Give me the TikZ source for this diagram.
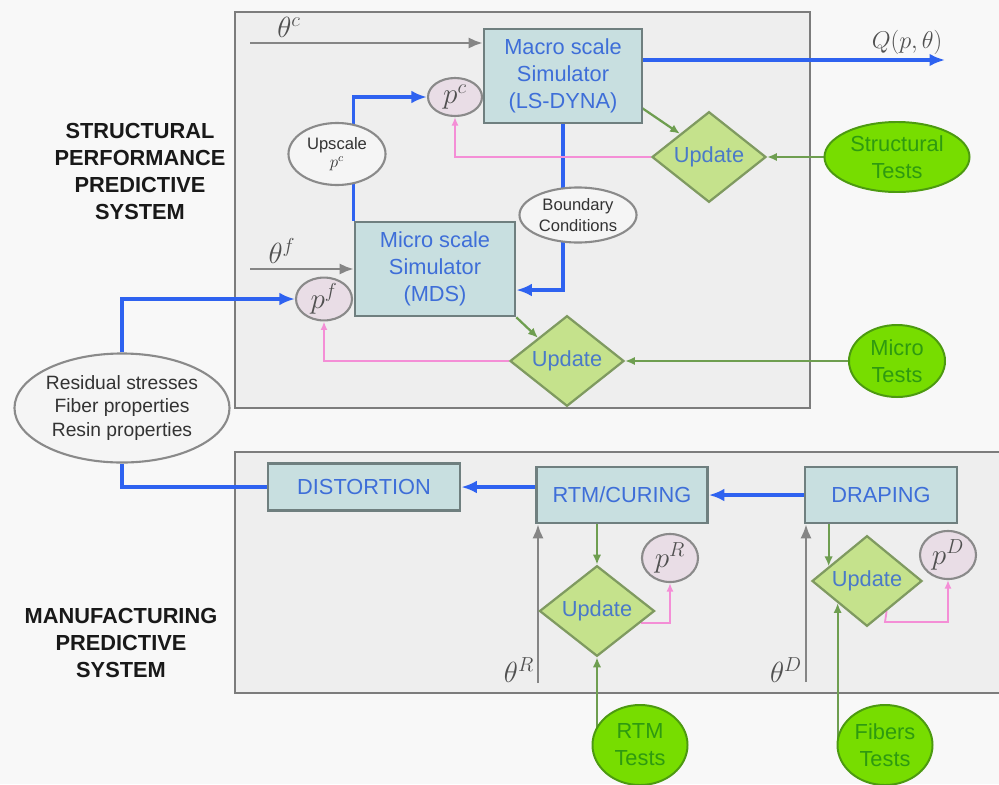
\documentclass[tikz,border=0pt]{standalone}
\usepackage{fontspec}
\setmainfont{Liberation Sans}
\usetikzlibrary{shapes.geometric,arrows.meta}
\definecolor{bgc}{HTML}{F8F8F8}
\definecolor{panel}{HTML}{EEEEEE}
\definecolor{panelline}{HTML}{7C7C7C}
\definecolor{simfill}{HTML}{C8DFE0}
\definecolor{simline}{HTML}{6F7F7F}
\definecolor{simtext}{HTML}{3E6ED8}
\definecolor{updfill}{HTML}{C5E28C}
\definecolor{updline}{HTML}{7F9A60}
\definecolor{updtext}{HTML}{4A7AC8}
\definecolor{testfill}{HTML}{77DD00}
\definecolor{testline}{HTML}{4C9A10}
\definecolor{testtext}{HTML}{2E9A10}
\definecolor{bluec}{HTML}{2E62F0}
\definecolor{greenc}{HTML}{6E9E50}
\definecolor{pinkc}{HTML}{F48ED6}
\definecolor{grayc}{HTML}{858585}
\definecolor{pfill}{HTML}{E9DDE6}
\definecolor{pline}{HTML}{8A8A8A}
\definecolor{ellline}{HTML}{8A8A8A}
\definecolor{ellfill}{HTML}{F5F5F5}
\definecolor{mathc}{HTML}{505050}
\pgfdeclarelayer{panels}
\pgfdeclarelayer{edges}
\pgfsetlayers{panels,edges,main}
\tikzset{
  simbox/.style={draw=simline, line width=1.8pt, fill=simfill, text=simtext,
    font=\fontsize{15.5}{19.2}\selectfont, align=center, inner sep=0pt},
  updbox/.style={diamond, draw=updline, line width=1.6pt, fill=updfill, text=updtext,
    font=\fontsize{15.5}{19.2}\selectfont, inner sep=0pt},
  testbox/.style={ellipse, draw=testline, line width=1.4pt, fill=testfill, text=testtext,
    font=\fontsize{15.5}{19.2}\selectfont, align=center, inner sep=0pt},
  pbox/.style={ellipse, draw=pline, line width=1.5pt, fill=pfill, text=mathc,
    font=\fontsize{20}{22}\selectfont, inner sep=0pt},
  notebox/.style={ellipse, draw=ellline, line width=1.5pt, fill=ellfill, text=black!80,
    align=center, inner sep=0pt},
  thlabel/.style={text=mathc, font=\fontsize{20}{24}\selectfont, inner sep=0pt},
  title/.style={font=\fontsize{15.5}{19.2}\selectfont\bfseries, text=black!90, align=center},
  panelbox/.style={draw=panelline, line width=1.8pt, fill=panel},
  bluearr/.style={draw=bluec, line width=2.5pt, -{Latex[length=11pt,width=9pt]}},
  blueline/.style={draw=bluec, line width=2.5pt},
  greenarr/.style={draw=greenc, line width=1.6pt, -{Latex[length=7pt,width=6pt]}},
  pinkarr/.style={draw=pinkc, line width=1.3pt, -{Latex[length=6pt,width=5pt]}},
  grayarr/.style={draw=grayc, line width=1.8pt, -{Latex[length=10pt,width=8pt]}}
}
\begin{document}
\begin{tikzpicture}[x=0.025cm,y=-0.025cm]
\useasboundingbox (0,0) rectangle (999,784);

% panels
\begin{pgfonlayer}{panels}
\fill[bgc] (0,0) rectangle (999,784);
\draw[panelbox] (235,12) rectangle (810,408);
\fill[panel] (235,452) rectangle (999,693);
\draw[draw=panelline, line width=1.8pt] (999,452) -- (235,452) -- (235,693) -- (999,693);
\end{pgfonlayer}

% titles
\node[title] (t1) at (140,171) {STRUCTURAL\\PERFORMANCE\\PREDICTIVE\\SYSTEM};
\node[title] (t2) at (121,643) {MANUFACTURING\\PREDICTIVE\\SYSTEM};

% structural system nodes
\node[simbox, minimum width=3.95cm, minimum height=2.35cm] (macro) at (563,76) {Macro scale\\Simulator\\(LS-DYNA)};
\node[simbox, minimum width=4.0cm, minimum height=2.35cm] (micro) at (435,269) {Micro scale\\Simulator\\(MDS)};
\node[pbox, minimum width=1.35cm, minimum height=0.95cm] (pc) at (455,97) {$p^c$};
\node[pbox, minimum width=1.4cm, minimum height=1.0cm] (pf) at (324,299) {$p^f$};
\node[notebox, minimum width=2.425cm, minimum height=1.55cm, font=\fontsize{11.8}{14}\selectfont] (ups) at (337,154) {Upscale\\[-1pt]{\large$p^c$}};
\node[notebox, minimum width=2.925cm, minimum height=1.375cm, font=\fontsize{11.8}{14.5}\selectfont] (bc) at (578,215) {Boundary\\Conditions};
\node[updbox, minimum width=2.85cm, minimum height=1.7cm] (u1) at (709,157) {Update};
\node[updbox, minimum width=2.85cm, minimum height=1.8cm] (u2) at (567,361) {Update};
\node[testbox, minimum width=3.625cm, minimum height=1.75cm] (st) at (897,157) {Structural\\Tests};
\node[testbox, minimum width=2.4cm, minimum height=1.8cm] (mt) at (897,361) {Micro\\Tests};
\node[notebox, minimum width=5.375cm, minimum height=2.725cm, font=\fontsize{13.7}{16.8}\selectfont] (res) at (122,408) {Residual stresses\\Fiber properties\\Resin properties};

\node[thlabel] (thcl) at (289,27) {$\theta^c$};
\node[thlabel] (thfl) at (282,251) {$\theta^f$};
\node[text=mathc, font=\fontsize{16}{19}\selectfont, inner sep=0pt] (ql) at (907,42) {$Q(p,\theta)$};
\coordinate (thc) at (250,43);
\coordinate (thf) at (250,269);
\coordinate (qend) at (945,60);
\coordinate (bcturn) at (563,290);
\coordinate (mgs) at (642,108);

% manufacturing nodes
\node[simbox, minimum width=4.8cm, minimum height=1.175cm] (dist) at (364,487) {DISTORTION};
\node[simbox, minimum width=4.275cm, minimum height=1.4cm] (rtm) at (622,495) {RTM/CURING};
\node[simbox, minimum width=3.8cm, minimum height=1.4cm] (drap) at (881,495) {DRAPING};
\node[updbox, minimum width=2.875cm, minimum height=2.05cm] (ur) at (597,611) {Update};
\node[updbox, minimum width=2.75cm, minimum height=2.05cm] (ud) at (867,581) {Update};
\node[pbox, minimum width=1.4cm, minimum height=1.2cm] (pr) at (670,558) {$p^R$};
\node[pbox, minimum width=1.4cm, minimum height=1.2cm] (pd) at (948,555) {$p^D$};
\node[testbox, minimum width=2.375cm, minimum height=2.0cm] (rt) at (640,745) {RTM\\Tests};
\node[testbox, minimum width=2.375cm, minimum height=2.0cm] (ft) at (885,745) {Fibers\\Tests};
\node[thlabel] (thrl) at (519,670) {$\theta^R$};
\node[thlabel] (thdl) at (786,670) {$\theta^D$};
\coordinate (thr) at (538,683);
\coordinate (thd) at (806,682);
\coordinate (dpk) at (885,622);

% connectors
\begin{pgfonlayer}{edges}
\draw[grayarr] (thc) -- (thc -| macro.west);
\draw[bluearr] (macro.east |- qend) -- (qend);
\draw[bluearr] (micro.north west) -- (micro.north west |- pc.west) -- (pc.west);
\draw[bluearr] (macro.south) -- (bcturn) -- (bcturn -| micro.east);
\draw[greenarr] (mgs) -- (u1.north west);
\draw[pinkarr] (u1.west) -| (pc.south);
\draw[greenarr] (st.west) -- (u1.east);
\draw[grayarr] (thf) -- (micro.west);
\draw[bluearr] (res.north) |- (pf.west);
\draw[greenarr] (micro.south east) -- (u2.north west);
\draw[pinkarr] (u2.west) -| (pf.south);
\draw[greenarr] (mt.west) -- (u2.east);

\draw[bluearr] (drap.west) -- (rtm.east);
\draw[bluearr] (rtm.west |- dist.east) -- (dist.east);
\draw[blueline] (dist.west) -| (res.south);
\draw[grayarr] (thr) -- (thr |- rtm.south);
\draw[greenarr] (rtm.south -| ur.north) -- (ur.north);
\draw[greenarr] (ur.south |- rt.west) -- (ur.south);
\draw[pinkarr] (ur.-15) -| (pr.south);
\draw[grayarr] (thd) -- (thd |- drap.south);
\draw[greenarr] (ud.159 |- drap.south) -- (ud.159);
\draw[greenarr] (ud.217 |- ft.west) -- (ud.217);
\draw[pinkarr] (ud.-57) -- (dpk) -| (pd.south);
\end{pgfonlayer}
\end{tikzpicture}
\end{document}
